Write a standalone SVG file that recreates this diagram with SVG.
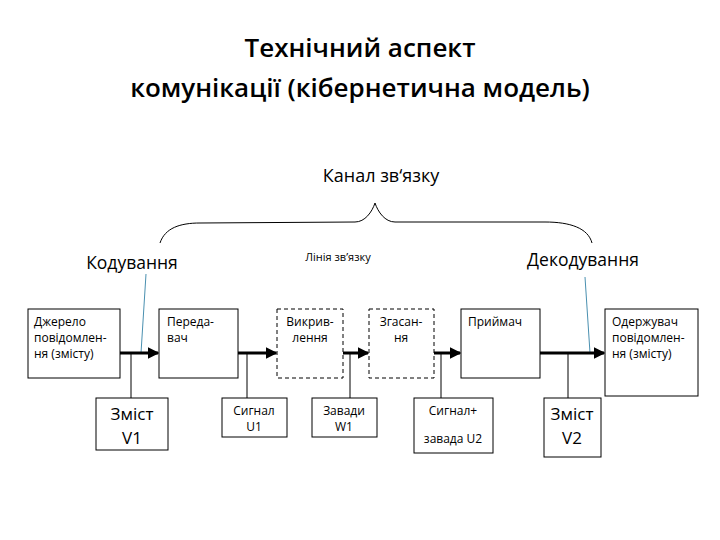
<svg xmlns="http://www.w3.org/2000/svg" width="720" height="540" viewBox="0 0 720 540">
<defs>
<style>
text{font-family:"Open Sans","Noto Sans",sans-serif;fill:#000}
.b{fill:#fff;stroke:#000;stroke-width:1}
.d{fill:#fff;stroke:#000;stroke-width:1;stroke-dasharray:4,3}
.s{font-size:12px}
.a{stroke:#000;stroke-width:3;fill:none;marker-end:url(#ar)}
.t{stroke:#000;stroke-width:1;fill:none}
.bl{stroke:#4a90b0;stroke-width:1;fill:none}
</style>
<marker id="ar" markerWidth="4" markerHeight="4" refX="3.5" refY="2" orient="auto"><path d="M0,0L4,2L0,4z" fill="#000"/></marker>
</defs>
<rect width="720" height="540" fill="#fff"/>
<text x="360" y="57" text-anchor="middle" font-size="26" font-weight="600">Технічний аспект</text>
<text x="360" y="97" text-anchor="middle" font-size="26" font-weight="600">комунікації (кібернетична модель)</text>
<text x="381" y="182" text-anchor="middle" font-size="18">Канал зв‘язку</text>
<text x="132" y="269" text-anchor="middle" font-size="17.5">Кодування</text>
<text x="338" y="261" text-anchor="middle" font-size="11">Лінія зв’язку</text>
<text x="583" y="266" text-anchor="middle" font-size="17.5">Декодування</text>
<g id="connectors">
<path class="t" d="M160,243 C165,228 180,223 200,223 L355,222 C365,222 372,212 375,203 C378,212 385,222 395,222 L545,222 C570,222 588,228 592,243"/>
<path class="bl" d="M146,274 L141,353"/>
<path class="bl" d="M585,277 L590,353"/>
<path class="a" d="M120,353 L158,353"/>
<path class="a" d="M238,353 L276,353"/>
<path class="a" d="M343,353 L368,353"/>
<path class="a" d="M434,353 L460,353"/>
<path class="a" d="M540,353 L604,353"/>
<path class="t" d="M131,353V398M247,353V398M350,353V398M441,353V398M568,353V398"/>
</g>
<g id="src"><rect class="b" x="28" y="309" width="92" height="69"/><text class="s" x="34" y="326">Джерело</text><text class="s" x="34" y="342">повідомлен-</text><text class="s" x="34" y="358">ня (змісту)</text></g>
<g id="tx"><rect class="b" x="159" y="309" width="79" height="69"/><text class="s" x="167" y="326">Переда-</text><text class="s" x="167" y="342">вач</text></g>
<g id="dist"><rect class="d" x="277" y="309" width="66" height="69"/><text class="s" x="310" y="326" text-anchor="middle">Викрив-</text><text class="s" x="310" y="342" text-anchor="middle">лення</text></g>
<g id="att"><rect class="d" x="369" y="309" width="65" height="69"/><text class="s" x="401" y="326" text-anchor="middle">Згасан-</text><text class="s" x="401" y="342" text-anchor="middle">ня</text></g>
<g id="rx"><rect class="b" x="461" y="309" width="79" height="69"/><text class="s" x="468" y="326">Приймач</text></g>
<g id="dst"><rect class="b" x="605" y="309" width="93" height="87"/><text class="s" x="612" y="326">Одержувач</text><text class="s" x="612" y="342">повідомлен-</text><text class="s" x="612" y="358">ня (змісту)</text></g>
<g id="v1"><rect class="b" x="96" y="398" width="72" height="52"/><text x="132" y="420" text-anchor="middle" font-size="17">Зміст</text><text x="132" y="444" text-anchor="middle" font-size="17">V1</text></g>
<g id="u1"><rect class="b" x="222" y="398" width="65" height="39"/><text class="s" x="254" y="415" text-anchor="middle">Сигнал</text><text class="s" x="254" y="431" text-anchor="middle">U1</text></g>
<g id="w1"><rect class="b" x="312" y="398" width="65" height="39"/><text class="s" x="344" y="415" text-anchor="middle">Завади</text><text class="s" x="344" y="431" text-anchor="middle">W1</text></g>
<g id="u2"><rect class="b" x="414" y="398" width="79" height="55"/><text class="s" x="453" y="415" text-anchor="middle">Сигнал+</text><text class="s" x="453" y="443" text-anchor="middle">завада U2</text></g>
<g id="v2"><rect class="b" x="544" y="398" width="57" height="59"/><text x="572" y="420" text-anchor="middle" font-size="17">Зміст</text><text x="572" y="444" text-anchor="middle" font-size="17">V2</text></g>
</svg>
